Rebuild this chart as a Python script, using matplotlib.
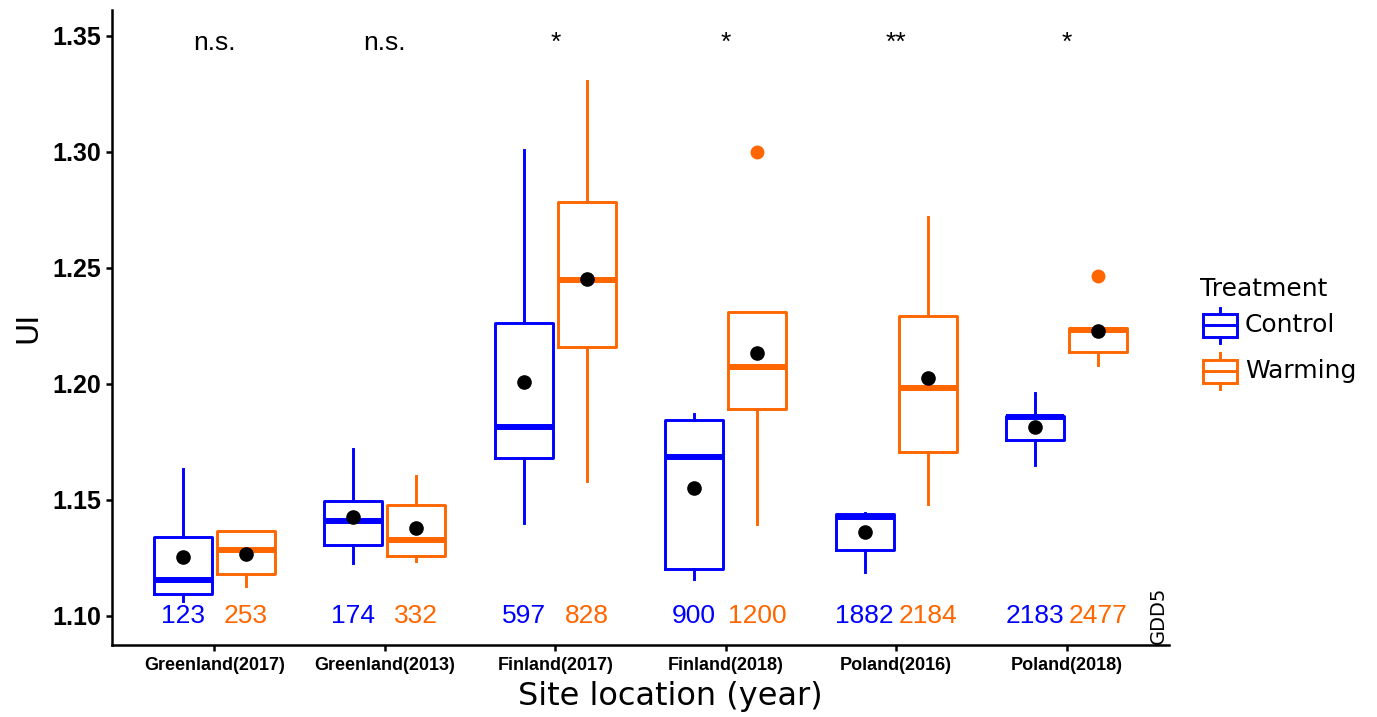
import matplotlib
matplotlib.use("Agg")
import matplotlib.pyplot as plt
from matplotlib.patches import Rectangle
from matplotlib.lines import Line2D

# ---------------- data ----------------
sites = ["Greenland(2017)", "Greenland(2013)", "Finland(2017)",
         "Finland(2018)", "Poland(2016)", "Poland(2018)"]

# control stats
ctrl_whislo = [1.1065, 1.1230, 1.1400, 1.1158, 1.1188, 1.1651]
ctrl_q1     = [1.1094, 1.1306, 1.1680, 1.1203, 1.1284, 1.1759]
ctrl_med    = [1.1155, 1.1407, 1.1813, 1.1684, 1.1428, 1.1856]
ctrl_q3     = [1.1339, 1.1497, 1.2264, 1.1842, 1.1438, 1.1863]
ctrl_whishi = [1.1632, 1.1719, 1.3009, 1.1869, 1.1443, 1.1960]
ctrl_mean   = [1.1256, 1.1425, 1.2006, 1.1550, 1.1361, 1.1816]
ctrl_fliers = [[], [], [], [], [], []]

# warming stats
warm_whislo = [1.1131, 1.1238, 1.1582, 1.1397, 1.1481, 1.2079]
warm_q1     = [1.1181, 1.1260, 1.2157, 1.1891, 1.1706, 1.2139]
warm_med    = [1.1284, 1.1328, 1.2448, 1.2072, 1.1981, 1.2232]
warm_q3     = [1.1366, 1.1477, 1.2783, 1.2310, 1.2294, 1.2240]
warm_whishi = [1.1366, 1.1603, 1.3306, 1.2310, 1.2717, 1.2240]
warm_mean   = [1.1266, 1.1378, 1.2453, 1.2134, 1.2027, 1.2228]
warm_fliers = [[], [], [], [1.2997], [], [1.2466]]

gdd_ctrl = ["123", "174", "597", "900", "1882", "2183"]
gdd_warm = ["253", "332", "828", "1200", "2184", "2477"]
signif = ["n.s.", "n.s.", "*", "*", "**", "*"]

treatments = ["Control", "Warming"]
BLUE = "#0000FF"
ORANGE = "#FF6600"

# ---------------- figure ----------------
W, H = 1377, 717
fig = plt.figure(figsize=(W / 100, H / 100), dpi=100)
ax = fig.add_axes([112 / W, (H - 645) / H, (1169 - 112) / W, (645 - 10) / H])

def stats(wl, q1, md, q3, wh, mn, fl):
    out = []
    for i in range(len(md)):
        out.append(dict(whislo=wl[i], q1=q1[i], med=md[i], q3=q3[i],
                        whishi=wh[i], mean=mn[i], fliers=fl[i]))
    return out

off = 0.185
bw = 0.34
groups = [
    (stats(ctrl_whislo, ctrl_q1, ctrl_med, ctrl_q3, ctrl_whishi, ctrl_mean, ctrl_fliers), -off, BLUE),
    (stats(warm_whislo, warm_q1, warm_med, warm_q3, warm_whishi, warm_mean, warm_fliers), off, ORANGE),
]
for st, o, col in groups:
    pos = [i + 1 + o for i in range(len(sites))]
    ax.bxp(st, positions=pos, widths=bw, showcaps=False, showmeans=True,
           showfliers=True, patch_artist=False,
           boxprops=dict(color=col, lw=2.1),
           whiskerprops=dict(color=col, lw=2.1),
           medianprops=dict(color=col, lw=4.3, solid_capstyle="butt"),
           meanprops=dict(marker="o", markerfacecolor="black",
                          markeredgecolor="black", markersize=9.5),
           flierprops=dict(marker="o", markerfacecolor=col,
                           markeredgecolor=col, markersize=9),
           manage_ticks=False)

# GDD numbers and significance labels
for i in range(len(sites)):
    ax.text(i + 1 - off, 1.10, gdd_ctrl[i], color=BLUE, ha="center", va="center",
            fontsize=19, family="Liberation Sans")
    ax.text(i + 1 + off, 1.10, gdd_warm[i], color=ORANGE, ha="center", va="center",
            fontsize=19, family="Liberation Sans")
    ax.text(i + 1, 1.3437, signif[i], color="black", ha="center", va="baseline",
            fontsize=19, family="Liberation Sans")

ax.text(6.54, 1.1005, "GDD5", rotation=90, ha="center", va="center",
        fontsize=14, color="black")

ax.set_xlim(0.4, 6.6)
ax.set_ylim(1.0875, 1.361)
ax.set_xticks(range(1, len(sites) + 1))
ax.set_xticklabels(sites, fontsize=13, fontweight="bold", family="Liberation Sans")
ax.set_yticks([1.10, 1.15, 1.20, 1.25, 1.30, 1.35])
ax.set_yticklabels(["1.10", "1.15", "1.20", "1.25", "1.30", "1.35"],
                   fontsize=18, fontweight="bold", family="Liberation Sans")
ax.tick_params(axis="both", length=4, width=1.8, color="black")
ax.tick_params(axis="y", pad=4)
ax.tick_params(axis="x", pad=5)
for s in ["top", "right"]:
    ax.spines[s].set_visible(False)
for s in ["left", "bottom"]:
    ax.spines[s].set_linewidth(1.8)
    ax.spines[s].set_color("black")

ax.set_xlabel("Site location (year)", fontsize=23)
ax.xaxis.set_label_coords((670 - 112) / 1057, (645 - 697) / 635)
ax.xaxis.label.set_va("center")
ax.set_ylabel("UI", fontsize=22)
ax.yaxis.set_label_coords((28 - 112) / 1057, 0.5)
ax.yaxis.label.set_va("center")

# ---------------- legend (manual) ----------------
def fx(px):
    return px / W

def fy(py):
    return 1 - py / H

fig.text(fx(1200), fy(289), "Treatment", fontsize=18, ha="left", va="center")
for k, (lab, col, cy) in enumerate([(treatments[0], BLUE, 325), (treatments[1], ORANGE, 371)]):
    x0, x1 = 1203, 1237
    xc = (x0 + x1) / 2
    fig.add_artist(Rectangle((fx(x0), fy(cy + 11.5)), fx(x1) - fx(x0), fy(cy - 11.5) - fy(cy + 11.5),
                             transform=fig.transFigure, fill=False, edgecolor=col, lw=2.1))
    fig.add_artist(Line2D([fx(x0), fx(x1)], [fy(cy), fy(cy)], transform=fig.transFigure,
                          color=col, lw=2.1))
    fig.add_artist(Line2D([fx(xc), fx(xc)], [fy(cy - 17.5), fy(cy - 11.5)], transform=fig.transFigure,
                          color=col, lw=2.1))
    fig.add_artist(Line2D([fx(xc), fx(xc)], [fy(cy + 11.5), fy(cy + 18)], transform=fig.transFigure,
                          color=col, lw=2.1))
    fig.text(fx(1245), fy(cy), lab, fontsize=18, ha="left", va="center")

fig.savefig("out.png", dpi=100)
